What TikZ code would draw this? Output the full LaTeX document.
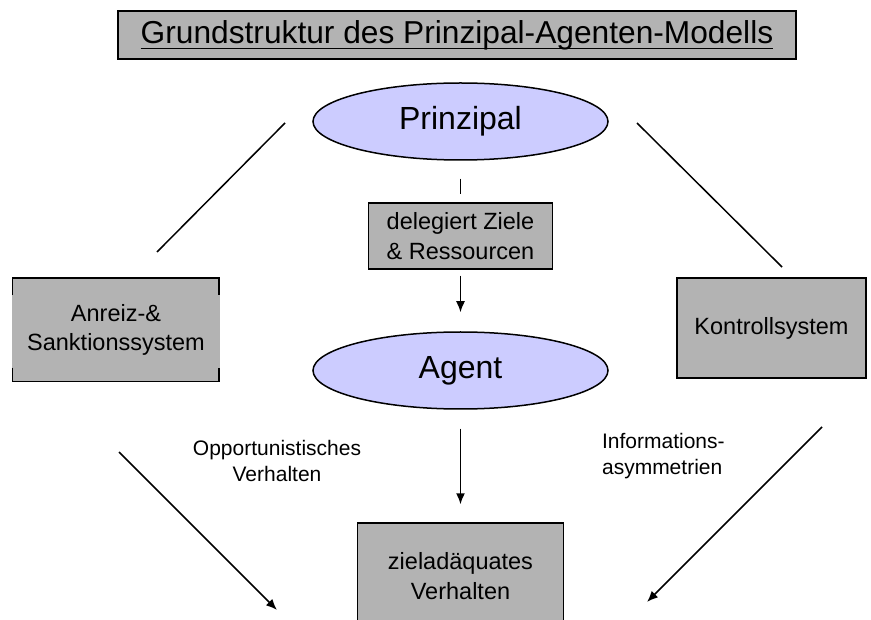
\documentclass[tikz,border=0pt]{standalone}
\usepackage{fontspec}
\setmainfont{Liberation Sans}
\usetikzlibrary{shapes.geometric,arrows.meta}
\definecolor{grau}{RGB}{179,179,179}
\definecolor{lila}{RGB}{204,204,255}
\newcommand{\unterstr}[1]{\setbox0=\hbox{#1}\rlap{\rule[-6pt]{\wd0}{1.5pt}}\box0}
\tikzstyle{kasten}=[rectangle, draw, fill=grau, align=center, inner sep=0pt, font=\fontsize{23.5}{29.5}\selectfont]
\tikzstyle{rolle}=[ellipse, draw, fill=lila, inner sep=0pt, minimum width=295, minimum height=77, font=\fontsize{32}{38}\selectfont]
\tikzstyle{marke}=[align=center, font=\fontsize{21}{26.5}\selectfont]
\tikzstyle{pfeil}=[-{Latex[length=11pt,width=9pt]}]

\begin{document}
\begin{tikzpicture}[x=1pt, y=-1pt, line width=1.5pt]
                \useasboundingbox (0,0) rectangle (871,620);
                \node[kasten, minimum width=678, minimum height=48, font=\fontsize{31.7}{38}\selectfont] (titel) at (457,35) {\unterstr{Grundstruktur des Prinzipal-Agenten-Modells}};
                \node[rolle] (prinzipal) at (460.5,121.5) {Prinzipal};
                \node[kasten, minimum width=184, minimum height=66] (delegiert) at (460.5,236) {delegiert Ziele\\\& Ressourcen};
                \node[rolle] (agent) at (460.5,370.5) {Agent};
                \node[kasten, draw=none, minimum width=208, minimum height=102] (anreiz) at (116,330) {Anreiz-\&\\Sanktionssystem};
                \draw ([xshift=1pt]anreiz.north west) ++(0,17) |- ([xshift=-2pt]anreiz.north east) -- ++(0,17);
                \draw ([xshift=1pt]anreiz.south west) ++(0,-14) |- ([xshift=-2pt]anreiz.south east) -- ++(0,-14);
                \node[kasten, minimum width=189, minimum height=100] (kontrolle) at (771.5,328) {Kontrollsystem};
                \node[kasten, minimum width=206, minimum height=106] (ziel) at (460.5,576) {zieladäquates\\Verhalten};
                \node[marke] (opport) at (277,461) {Opportunistisches\\Verhalten};
                \node[marke, align=left, anchor=north west] (info) at (598,429) {Informations-\\asymmetrien};
                \coordinate (lo1) at (285,123);
                \coordinate (lo2) at (157,252);
                \coordinate (ro1) at (637,123);
                \coordinate (ro2) at (782,267);
                \coordinate (lu1) at (119,452);
                \coordinate (lu2) at (277,610);
                \coordinate (ru1) at (822,427);
                \coordinate (ru2) at (647,602);
                \draw (lo1)--(lo2) (ro1)--(ro2);
                \draw[pfeil] (lu1)--(lu2);
                \draw[pfeil] (ru1)--(ru2);
                \draw[shorten <=18pt, shorten >=8pt] (prinzipal)--(delegiert);
                \draw[pfeil, shorten <=6pt, shorten >=19pt] (delegiert)--(agent);
                \draw[pfeil, shorten <=19pt, shorten >=18pt] (agent)--(ziel);
            \end{tikzpicture}
\end{document}
